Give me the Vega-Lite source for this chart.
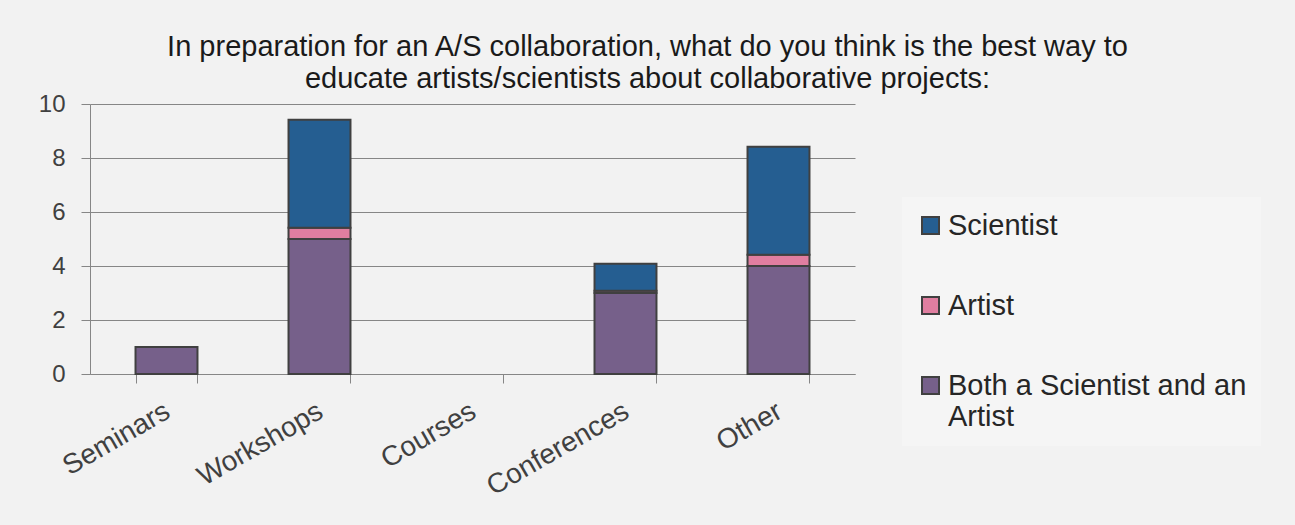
{
  "$schema": "https://vega.github.io/schema/vega-lite/v6.json",
  "autosize": {"type": "none"},
  "width": 765,
  "height": 270,
  "padding": {"left": 90, "top": 104, "right": 440, "bottom": 151},
  "background": "#f2f2f2",
  "title": {
    "text": ["In preparation for an A/S collaboration, what do you think is the best way to", "educate artists/scientists about collaborative projects:"],
    "anchor": "middle",
    "frame": "group",
    "dx": 175,
    "offset": -2,
    "font": "Liberation Sans",
    "fontSize": 29,
    "fontWeight": "normal",
    "color": "#1a1a1a",
    "lineHeight": 32
  },
  "data": {
    "values": [
      {"category": "Seminars", "group": "Both a Scientist and an Artist", "value": 1},
      {"category": "Workshops", "group": "Both a Scientist and an Artist", "value": 5},
      {"category": "Workshops", "group": "Artist", "value": 0.42},
      {"category": "Workshops", "group": "Scientist", "value": 4},
      {"category": "Conferences", "group": "Both a Scientist and an Artist", "value": 3},
      {"category": "Conferences", "group": "Artist", "value": 0.08},
      {"category": "Conferences", "group": "Scientist", "value": 1},
      {"category": "Other", "group": "Both a Scientist and an Artist", "value": 4},
      {"category": "Other", "group": "Artist", "value": 0.42},
      {"category": "Other", "group": "Scientist", "value": 4}
    ]
  },
  "mark": {"type": "bar", "stroke": "#404040", "strokeWidth": 2},
  "encoding": {
    "x": {
      "field": "category",
      "type": "nominal",
      "scale": {"domain": ["Seminars", "Workshops", "Courses", "Conferences", "Other"], "paddingInner": 0.595, "paddingOuter": 0.2975},
      "axis": {
        "title": null,
        "labelAngle": -30,
        "labelAlign": "right",
        "labelBaseline": "top",
        "labelPadding": 14,
        "labelOffset": -6,
        "labelFont": "Liberation Sans",
        "labelFontSize": 28,
        "labelColor": "#404040",
        "tickBand": "extent",
        "tickSize": 9,
        "tickColor": "#868686",
        "domainColor": "#868686",
        "grid": false
      }
    },
    "y": {
      "field": "value",
      "type": "quantitative",
      "stack": "zero",
      "scale": {"domain": [0, 10], "nice": false},
      "axis": {
        "title": null,
        "values": [0, 2, 4, 6, 8, 10],
        "labelFont": "Liberation Sans",
        "labelFontSize": 24,
        "labelColor": "#404040",
        "labelPadding": 16,
        "tickSize": 9,
        "tickColor": "#868686",
        "domainColor": "#868686",
        "gridColor": "#868686",
        "gridWidth": 1
      }
    },
    "color": {
      "field": "group",
      "type": "nominal",
      "sort": ["Scientist", "Artist", "Both a Scientist and an Artist"],
      "scale": {
        "domain": ["Scientist", "Artist", "Both a Scientist and an Artist"],
        "range": ["#255e91", "#e07ea0", "#76608a"]
      },
      "legend": {
        "title": null,
        "orient": "none",
        "legendX": 812,
        "legendY": 93,
        "fillColor": "#f5f5f5",
        "padding": 14,
        "symbolType": "square",
        "symbolSize": 289,
        "symbolStrokeColor": "#404040",
        "symbolStrokeWidth": 2,
        "symbolOpacity": 1,
        "labelFont": "Liberation Sans",
        "labelFontSize": 29,
        "labelColor": "#262626",
        "labelLimit": 400,
        "labelOffset": 3,
        "rowPadding": 50,
        "labelExpr": "datum.label == 'Both a Scientist and an Artist' ? ['Both a Scientist and an', 'Artist'] : datum.label"
      }
    },
    "order": {"field": "orderKey", "type": "quantitative"}
  },
  "transform": [
    {"calculate": "datum.group == 'Both a Scientist and an Artist' ? 0 : (datum.group == 'Artist' ? 1 : 2)", "as": "orderKey"}
  ],
  "config": {
    "view": {"stroke": null},
    "axis": {"domainWidth": 1, "tickWidth": 1}
  }
}
